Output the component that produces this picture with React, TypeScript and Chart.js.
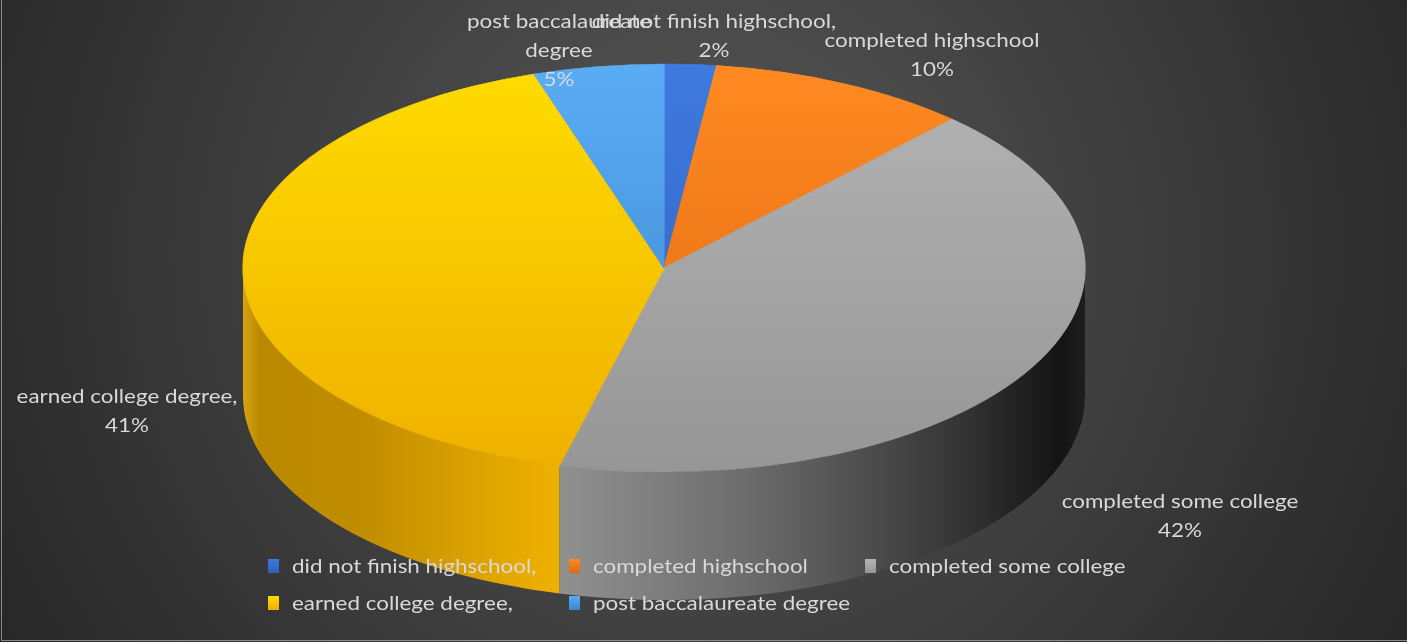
import React, { useEffect, useRef } from "react";
import { Chart, registerables } from "chart.js";

Chart.register(...registerables);

// ---- data ----
const categories = [
  "did not finish highschool,",
  "completed highschool",
  "completed some college",
  "earned college degree,",
  "post baccalaureate degree",
];
const shares = [2, 10, 42, 41, 5];
// how each category name wraps in its data label
const labelWraps = [
  ["did not finish highschool,"],
  ["completed highschool"],
  ["completed some college"],
  ["earned college degree,"],
  ["post baccalaureate", "degree"],
];

// ---- styles ----
const topColors = [
  ["#3f7ae0", "#2f60bc"],
  ["#ff8a22", "#e0670f"],
  ["#b4b4b4", "#969696"],
  ["#ffdc00", "#efb000"],
  ["#5aacf4", "#3a86cf"],
];
const wallStops: [number, string][][] = [
  [[0, "#2a4f90"], [1, "#10203c"]],
  [[0, "#b25a10"], [1, "#4a2406"]],
  [[0.38, "#909090"], [0.6, "#6c6c6c"], [0.85, "#353535"], [0.97, "#141414"], [1, "#1e1e1e"]],
  [[0, "#d6a312"], [0.02, "#bb8900"], [0.14, "#c08d00"], [0.38, "#f0b200"]],
  [[0, "#2c6aa8"], [1, "#123050"]],
];
const FONT = "Lato, 'Liberation Sans', sans-serif";
const FONT_SIZE = 20;
const TEXT_STRETCH = 1.12;
const TEXT_COLOR = "#d9d9d9";
const DEPTH = 128;
const LINE_H = 29;
// label block centres (x, y)
const labelCenters = [
  [714, 36],
  [932, 55],
  [1180, 516],
  [127, 411],
  [559, 51],
];
// legend layout
const legendCols = [268, 569, 865];
const legendRows = [566, 603];
const legendOrder = [
  [0, 0, 0],
  [1, 1, 0],
  [2, 2, 0],
  [3, 0, 1],
  [4, 1, 1],
];

const total = shares.reduce((a, b) => a + b, 0);
const pct = shares.map((v) => Math.round((v / total) * 100) + "%");

let saved = false;

function drawText(ctx: CanvasRenderingContext2D, s: string, x: number, y: number) {
  ctx.save();
  ctx.translate(x, y);
  ctx.scale(TEXT_STRETCH, 1);
  ctx.fillText(s, 0, 0);
  ctx.restore();
}

const pie3d = {
  id: "pie3d",
  beforeDraw(chart: any) {
    const { ctx, width, height } = chart;
    ctx.save();
    const g = ctx.createRadialGradient(700, 250, 0, 700, 250, 820);
    g.addColorStop(0, "#585858");
    g.addColorStop(1, "#262626");
    ctx.fillStyle = g;
    ctx.fillRect(0, 0, width, height);
    ctx.strokeStyle = "#8a8a8a";
    ctx.lineWidth = 1;
    ctx.beginPath();
    ctx.moveTo(1.5, 0);
    ctx.lineTo(1.5, 640.5);
    ctx.lineTo(width, 640.5);
    ctx.stroke();
    ctx.restore();
  },
  beforeDatasetsDraw(chart: any) {
    const meta = chart.getDatasetMeta(0);
    const arcs = meta.data;
    saved = false;
    if (!arcs.length) return;
    const ca = chart.chartArea;
    const ctx = chart.ctx;
    const cx = arcs[0].x;
    const cy = arcs[0].y;
    const R = arcs[0].outerRadius;
    const rx = ca.width / 2;
    const ry = ca.height / 2;
    arcs.forEach((arc: any, i: number) => {
      const s = Math.max(arc.startAngle, 0);
      const e = Math.min(arc.endAngle, Math.PI);
      if (e <= s) return;
      const g = ctx.createLinearGradient(ca.left, 0, ca.right, 0);
      wallStops[i].forEach(([p, c]) => g.addColorStop(p, c));
      ctx.save();
      ctx.beginPath();
      ctx.ellipse(cx, cy, rx, ry, 0, s, e, false);
      ctx.ellipse(cx, cy + DEPTH, rx, ry, 0, e, s, true);
      ctx.closePath();
      ctx.fillStyle = g;
      ctx.fill();
      ctx.restore();
    });
    ctx.save();
    saved = true;
    ctx.translate(cx, cy);
    ctx.scale(rx / R, ry / R);
    ctx.translate(-cx, -cy);
  },
  afterDatasetsDraw(chart: any) {
    const ctx = chart.ctx;
    if (saved) ctx.restore();
    saved = false;
    ctx.save();
    ctx.font = `${FONT_SIZE}px ${FONT}`;
    ctx.fillStyle = TEXT_COLOR;
    ctx.textAlign = "center";
    ctx.textBaseline = "middle";
    // data labels
    const order = [4, 0, 1, 2, 3];
    order.forEach((i) => {
      const lines = [...labelWraps[i], pct[i]];
      const [x, y] = labelCenters[i];
      lines.forEach((ln, k) => {
        drawText(ctx, ln, x, y + (k - (lines.length - 1) / 2) * LINE_H);
      });
    });
    // legend
    ctx.textAlign = "left";
    legendOrder.forEach(([i, col, row]) => {
      const mx = legendCols[col];
      const my = legendRows[row];
      const g = ctx.createLinearGradient(0, my - 7, 0, my + 7);
      g.addColorStop(0, topColors[i][0]);
      g.addColorStop(1, topColors[i][1]);
      ctx.fillStyle = g;
      ctx.fillRect(mx, my - 7, 11, 14);
      ctx.fillStyle = TEXT_COLOR;
      drawText(ctx, categories[i], mx + 24, my + 1);
    });
    ctx.restore();
  },
};

export default function App() {
  const ref = useRef<HTMLCanvasElement>(null);
  useEffect(() => {
    document.body.style.margin = "0";
    const canvas = ref.current!;
    const fill = (c: any) => {
      const ca = c.chart.chartArea;
      const i = c.dataIndex;
      if (!ca || i === undefined) return topColors[i ?? 0][0];
      const g = c.chart.ctx.createLinearGradient(0, ca.top, 0, ca.bottom);
      g.addColorStop(0, topColors[i][0]);
      g.addColorStop(1, topColors[i][1]);
      return g;
    };
    const chart = new Chart(canvas, {
      type: "pie",
      data: {
        labels: categories,
        datasets: [
          {
            data: shares,
            backgroundColor: fill as any,
            borderColor: fill as any,
            borderWidth: 0.6,
            hoverOffset: 0,
            offset: 0,
            clip: false as any,
          },
        ],
      },
      options: {
        responsive: false,
        animation: false,
        events: [],
        layout: { padding: { left: 243, right: 322, top: 64, bottom: 170 } },
        plugins: { legend: { display: false }, tooltip: { enabled: false } },
      },
      plugins: [pie3d],
    });
    return () => chart.destroy();
  }, []);
  return (
    <div>
      <canvas ref={ref} width={1407} height={642} style={{ display: "block" }} />
    </div>
  );
}
